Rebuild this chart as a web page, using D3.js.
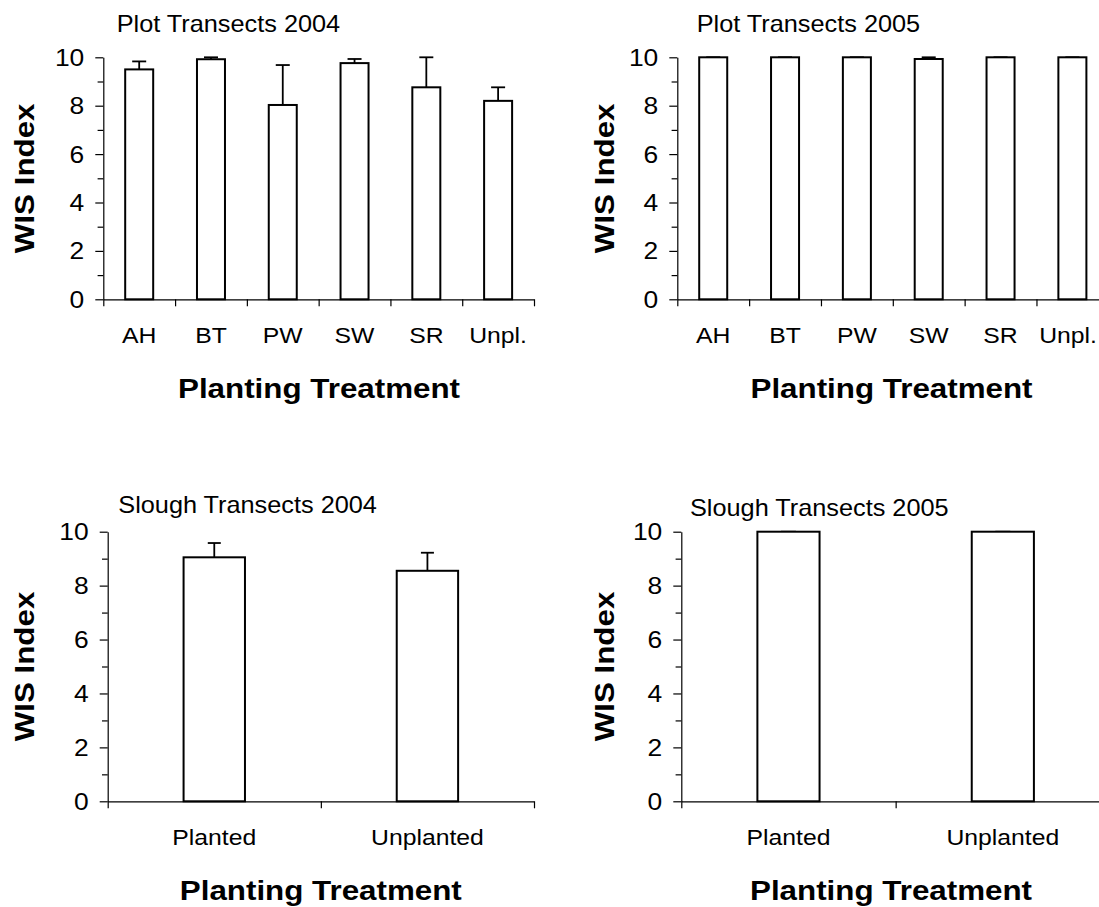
<!DOCTYPE html>
<html>
<head>
<meta charset="utf-8">
<script src="https://cdn.jsdelivr.net/npm/d3@7"></script>
<style>
  html, body { margin: 0; padding: 0; background: #fff; }
  svg { display: block; }
  text { font-family: "Liberation Sans", Arial, Helvetica, sans-serif; fill: #000; }
</style>
</head>
<body>
<svg id="chart" width="1099" height="907"></svg>
<script>
// Wetland indicator status (WIS) index by planting treatment, mean + SE
const plotCategories = ["AH", "BT", "PW", "SW", "SR", "Unpl."];
const plot2004Means  = [9.50, 9.92, 8.03, 9.76, 8.76, 8.20];
const plot2004Errors = [0.33, 0.08, 1.65, 0.17, 1.24, 0.56];
const plot2005Means  = [10.0, 10.0, 10.0, 9.93, 10.0, 10.0];
const plot2005Errors = [0.0, 0.0, 0.0, 0.07, 0.0, 0.0];

const sloughCategories = ["Planted", "Unplanted"];
const slough2004Means  = [9.05, 8.55];
const slough2004Errors = [0.53, 0.67];
const slough2005Means  = [10.0, 10.0];
const slough2005Errors = [0.0, 0.0];

const yTickValues  = [0, 2, 4, 6, 8, 10];
const yMinorValues = [1, 3, 5, 7, 9];
const yLabel = "WIS Index";
const xLabel = "Planting Treatment";

const svg = d3.select("#chart");
const SVG_WIDTH = 1099;
const FONT_STRETCH = 1.1;

// text helper: glyphs are drawn slightly wide along the writing direction
function addText(parent, x, y, str, opt) {
  const g = parent.append("g")
    .attr("transform", `translate(${x},${y}) rotate(${opt.rotate || 0}) scale(${FONT_STRETCH},1)`);
  const t = g.append("text")
    .attr("text-anchor", opt.anchor || "start")
    .attr("font-size", opt.size)
    .attr("font-weight", opt.weight || "normal")
    .text(str);
  if (opt.keepInside) {
    // nudge a label left if it would run past the drawing's right edge
    const w = t.node().getComputedTextLength() * FONT_STRETCH;
    const right = opt.anchor === "middle" ? x + w / 2 : x + w;
    if (right > SVG_WIDTH - 2) {
      g.attr("transform", `translate(${x - (right - (SVG_WIDTH - 2))},${y}) scale(${FONT_STRETCH},1)`);
    }
  }
  return g;
}

function drawPanel(p) {
  const g = svg.append("g");
  const y = d3.scaleLinear().domain([0, 10]).range([p.yBot, p.yTop]);
  const n = p.categories.length;
  const x = d3.scaleBand().domain(p.categories).range([p.x0, p.x1]).padding(0);
  const edge = d3.scaleLinear().domain([0, n]).range([p.x0, p.x1]);

  const bw = x.bandwidth() * p.barFrac;
  const rows = p.categories.map((c, i) => ({ c, m: p.means[i], e: p.errors[i] }));

  // error bars (upper only)
  const eg = g.append("g").attr("stroke", "#000").attr("stroke-width", 1.8);
  rows.forEach(d => {
    const cx = x(d.c) + x.bandwidth() / 2;
    eg.append("line").attr("x1", cx).attr("x2", cx).attr("y1", y(d.m)).attr("y2", y(d.m + d.e));
    eg.append("line").attr("x1", cx - p.cap / 2).attr("x2", cx + p.cap / 2)
      .attr("y1", y(d.m + d.e)).attr("y2", y(d.m + d.e));
  });

  // bars
  g.append("g").selectAll("rect").data(rows).join("rect")
    .attr("x", d => x(d.c) + (x.bandwidth() - bw) / 2)
    .attr("y", d => y(d.m))
    .attr("width", bw)
    .attr("height", d => y(0) - y(d.m))
    .attr("fill", "#fff")
    .attr("stroke", "#000")
    .attr("stroke-width", 2);

  // y axis
  const ya = g.append("g").attr("transform", `translate(${p.x0},0)`)
    .call(d3.axisLeft(y).tickValues(yTickValues).tickSize(8).tickSizeOuter(0).tickFormat(""));
  ya.append("g").selectAll("line").data(yMinorValues).join("line")
    .attr("x1", -5.7).attr("x2", 0)
    .attr("y1", d => y(d) + 0.5).attr("y2", d => y(d) + 0.5)
    .attr("stroke", "#000");
  ya.selectAll("path, line").attr("stroke", "#000").attr("stroke-width", 1.2);

  yTickValues.forEach(v => {
    addText(g, p.x0 - 19, y(v) + 8.5, String(v), { size: 24, anchor: "end" });
  });

  // x axis
  const xa = g.append("g").attr("transform", `translate(0,${p.yBot})`)
    .call(d3.axisBottom(edge).tickValues(d3.range(0, n + 1)).tickSize(7).tickSizeOuter(0).tickFormat(""));
  xa.selectAll("path, line").attr("stroke", "#000").attr("stroke-width", 1.2);

  p.categories.forEach(c => {
    addText(g, x(c) + x.bandwidth() / 2, p.yBot + 44, c, { size: 22.5, anchor: "middle", keepInside: true });
  });

  // titles
  addText(g, p.titleX, p.titleY, p.title, { size: 23 });
  addText(g, p.xLabelX, p.yBot + 99, xLabel, { size: 28.5, weight: "bold", anchor: "middle" });
  addText(g, p.yLabelX, (p.yTop + p.yBot) / 2, yLabel, { size: 28.5, weight: "bold", anchor: "middle", rotate: -90 });
}

drawPanel({
  title: "Plot Transects 2004", categories: plotCategories, means: plot2004Means, errors: plot2004Errors,
  x0: 103.3, x1: 534, yTop: 57.3, yBot: 299.3, barFrac: 0.39, cap: 14,
  titleX: 116.7, titleY: 32, xLabelX: 319, yLabelX: 34
});
drawPanel({
  title: "Plot Transects 2005", categories: plotCategories, means: plot2005Means, errors: plot2005Errors,
  x0: 677.3, x1: 1108.3, yTop: 57.3, yBot: 299.3, barFrac: 0.39, cap: 14,
  titleX: 696.7, titleY: 32, xLabelX: 891.5, yLabelX: 614
});
drawPanel({
  title: "Slough Transects 2004", categories: sloughCategories, means: slough2004Means, errors: slough2004Errors,
  x0: 107.7, x1: 534, yTop: 531.7, yBot: 801.3, barFrac: 0.288, cap: 13,
  titleX: 118.3, titleY: 513, xLabelX: 320.8, yLabelX: 34
});
drawPanel({
  title: "Slough Transects 2005", categories: sloughCategories, means: slough2005Means, errors: slough2005Errors,
  x0: 681.3, x1: 1110, yTop: 531.7, yBot: 801.3, barFrac: 0.29, cap: 15,
  titleX: 690, titleY: 516, xLabelX: 891, yLabelX: 614
});
</script>
</body>
</html>
